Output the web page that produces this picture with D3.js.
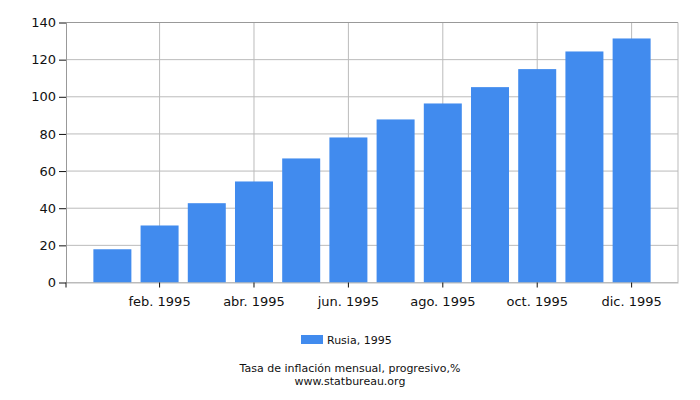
<!DOCTYPE html>
<html>
<head>
<meta charset="utf-8">
<script src="https://cdn.jsdelivr.net/npm/d3@7"></script>
<style>
body { margin: 0; background: #fff; }
text { font-family: "DejaVu Sans", sans-serif; fill: #111; }
</style>
</head>
<body>
<div id="viz"></div>
<script>
var months = ['ene. 1995', 'feb. 1995', 'mar. 1995', 'abr. 1995', 'may. 1995', 'jun. 1995',
              'jul. 1995', 'ago. 1995', 'sep. 1995', 'oct. 1995', 'nov. 1995', 'dic. 1995'];
var values = [17.9, 30.7, 42.7, 54.4, 66.8, 78.1, 87.8, 96.4, 105.2, 114.9, 124.4, 131.4];
var yTicks = [0, 20, 40, 60, 80, 100, 120, 140];
var xTickLabels = ['feb. 1995', 'abr. 1995', 'jun. 1995', 'ago. 1995', 'oct. 1995', 'dic. 1995'];
var seriesName = 'Rusia, 1995';
var subtitle = 'Tasa de inflación mensual, progresivo,%';
var site = 'www.statbureau.org';

var width = 700,
    height = 400,
    plotLeft = 66,
    plotRight = 678,
    plotTop = 22.5,
    plotBottom = 282.5,
    barColor = '#418bee';

var svg = d3.select('#viz').append('svg')
    .attr('width', width)
    .attr('height', height);

var xScale = d3.scaleBand()
    .domain(months)
    .range([plotLeft, plotRight])
    .paddingInner(0.195)
    .paddingOuter(0.58);

var yScale = d3.scaleLinear()
    .domain([0, 140])
    .range([plotBottom, plotTop]);

// grid
svg.append('g')
    .selectAll('line').data(yTicks)
    .enter().append('line')
    .attr('x1', plotLeft).attr('x2', plotRight)
    .attr('y1', function(d){ return yScale(d); })
    .attr('y2', function(d){ return yScale(d); })
    .style('stroke', '#bbb');

svg.append('g')
    .selectAll('line').data(xTickLabels)
    .enter().append('line')
    .attr('x1', function(d){ return xScale(d) + xScale.bandwidth() / 2; })
    .attr('x2', function(d){ return xScale(d) + xScale.bandwidth() / 2; })
    .attr('y1', plotTop).attr('y2', plotBottom)
    .style('stroke', '#bbb');

// frame
svg.append('line').attr('x1', plotLeft).attr('x2', plotRight).attr('y1', plotTop).attr('y2', plotTop)
    .style('stroke', '#999');
svg.append('line').attr('x1', plotRight).attr('x2', plotRight).attr('y1', plotTop).attr('y2', plotBottom)
    .style('stroke', '#bbb');

// bars
svg.append('g')
    .selectAll('rect').data(values)
    .enter().append('rect')
    .attr('x', function(d, i){ return xScale(months[i]); })
    .attr('width', xScale.bandwidth())
    .attr('y', function(d){ return yScale(d); })
    .attr('height', function(d){ return plotBottom - yScale(d); })
    .style('fill', barColor);

// y axis
var yAxis = svg.append('g')
    .attr('transform', 'translate(' + plotLeft + ',0)')
    .call(d3.axisLeft(yScale).tickValues(yTicks).tickSize(7).tickPadding(3).tickSizeOuter(0));
yAxis.select('.domain').style('stroke', '#999');
yAxis.selectAll('.tick line').style('stroke', '#111');
yAxis.selectAll('text').style('font-size', '13px').style('font-family', '"DejaVu Sans", sans-serif').attr('fill', '#111');

// x axis
var xAxis = svg.append('g')
    .attr('transform', 'translate(0,' + plotBottom + ')')
    .call(d3.axisBottom(xScale).tickValues(xTickLabels).tickSize(5).tickPadding(9).tickSizeOuter(0));
xAxis.select('.domain').style('stroke', '#bbb');
xAxis.selectAll('.tick line').style('stroke', '#111');
xAxis.selectAll('text').style('font-size', '13px').style('font-family', '"DejaVu Sans", sans-serif').attr('fill', '#111');
xAxis.append('line').attr('x1', plotLeft).attr('x2', plotLeft).attr('y1', 0).attr('y2', 5)
    .style('stroke', '#111');

// legend
svg.append('rect')
    .attr('x', 301).attr('y', 335)
    .attr('width', 22).attr('height', 9)
    .style('fill', barColor);
svg.append('text')
    .attr('x', 327).attr('y', 344)
    .style('font-size', '11px')
    .text(seriesName);

// footer
svg.append('text')
    .attr('x', 350).attr('y', 372)
    .attr('text-anchor', 'middle')
    .style('font-size', '11px')
    .text(subtitle);
svg.append('text')
    .attr('x', 350).attr('y', 385)
    .attr('text-anchor', 'middle')
    .style('font-size', '11px')
    .text(site);
</script>
</body>
</html>
